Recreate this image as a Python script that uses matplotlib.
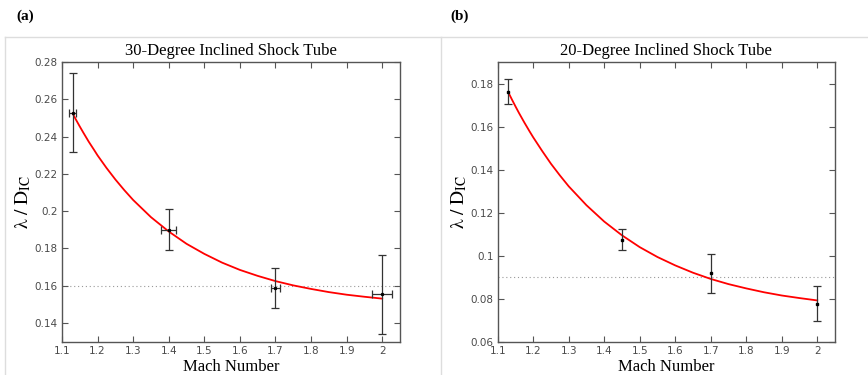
import matplotlib
matplotlib.use("Agg")
import matplotlib.pyplot as plt
from matplotlib.lines import Line2D

plt.rcParams['mathtext.fontset'] = 'stix'

# Datele
mach_a = [1.13, 1.40, 1.70, 2.00]
lam_a = [0.2524, 0.190, 0.159, 0.1554]
yerr_lo_a = [0.0209, 0.011, 0.0111, 0.0214]
yerr_hi_a = [0.0216, 0.011, 0.0107, 0.0211]
xerr_a = [0.010, 0.021, 0.012, 0.028]

fit_x_a = [1.13, 1.14, 1.15, 1.16, 1.175, 1.19, 1.20, 1.225, 1.25, 1.275, 1.30, 1.35,
           1.40, 1.45, 1.50, 1.55, 1.60, 1.65, 1.70, 1.75, 1.80, 1.85, 1.90, 1.95, 2.00]
fit_y_a = [0.2524, 0.2488, 0.2454, 0.2421, 0.2373, 0.2329, 0.2299, 0.2232, 0.2170,
           0.2113, 0.2060, 0.1968, 0.1891, 0.1825, 0.1771, 0.1724, 0.1685, 0.1653,
           0.1625, 0.1602, 0.1583, 0.1566, 0.1552, 0.1541, 0.1531]
ref_a = 0.16

mach_b = [1.13, 1.45, 1.70, 2.00]
lam_b = [0.1762, 0.1073, 0.0918, 0.0775]
yerr_lo_b = [0.0055, 0.0048, 0.0091, 0.0080]
yerr_hi_b = [0.0058, 0.0050, 0.0090, 0.0083]

fit_x_b = fit_x_a
fit_y_b = [0.1760, 0.1727, 0.1695, 0.1664, 0.1620, 0.1578, 0.1551, 0.1488, 0.1428,
           0.1374, 0.1323, 0.1235, 0.1159, 0.1095, 0.1040, 0.0994, 0.0955, 0.0921,
           0.0892, 0.0868, 0.0848, 0.0830, 0.0815, 0.0803, 0.0792]
ref_b = 0.09

xticks = [1.1, 1.2, 1.3, 1.4, 1.5, 1.6, 1.7, 1.8, 1.9, 2.0]
yticks_a = [0.14, 0.16, 0.18, 0.20, 0.22, 0.24, 0.26, 0.28]
yticks_b = [0.06, 0.08, 0.10, 0.12, 0.14, 0.16, 0.18]

serif = 'Liberation Serif'
spine_col = '#555555'
tick_col = '#4a4a4a'

fig = plt.figure(figsize=(8.68, 3.75), dpi=100)

# chenarele panourilor
frame = '#dddddd'
fig.add_artist(Line2D([5 / 868, 1.0], [1 - 37 / 375] * 2, color=frame, lw=1))
fig.add_artist(Line2D([5 / 868] * 2, [0, 1 - 37 / 375], color=frame, lw=1))
fig.add_artist(Line2D([441 / 868] * 2, [0, 1 - 37 / 375], color=frame, lw=1))

fig.text(16 / 868, 1 - 16 / 375, '(a)', fontfamily=serif, fontweight='bold',
         fontsize=11, va='center')
fig.text(450 / 868, 1 - 16 / 375, '(b)', fontfamily=serif, fontweight='bold',
         fontsize=11, va='center')


def draw(ax, mach, lam, ylo, yhi, xerr, fx, fy, ref, ylim, yticks, title, marker, ms):
    ax.axhline(ref, color='#999999', ls=(0, (1, 2.5)), lw=0.8, zorder=1)
    ax.plot(fx, fy, color='red', lw=1.3, zorder=2)
    ax.errorbar(mach, lam, yerr=[ylo, yhi], xerr=xerr, fmt='none',
                ecolor='#333333', elinewidth=0.9, capsize=3, capthick=0.9, zorder=3)
    ax.plot(mach, lam, marker, color='black', ms=ms, zorder=4)
    ax.set_xlim(1.1, 2.05)
    ax.set_ylim(*ylim)
    ax.set_xticks(xticks)
    ax.set_xticklabels(['%g' % t for t in xticks])
    ax.set_yticks(yticks)
    ax.set_yticklabels(['%g' % round(t, 2) for t in yticks])
    ax.tick_params(direction='in', top=True, right=True, length=4, width=0.8,
                   color=spine_col, labelcolor=tick_col, labelsize=7.5, pad=3)
    for s in ax.spines.values():
        s.set_color(spine_col)
        s.set_linewidth(1.0)
    ax.set_title(title, fontfamily=serif, fontsize=12, pad=5)
    ax.set_xlabel('Mach Number', fontfamily=serif, fontsize=12, labelpad=2)
    ax.set_ylabel(r'$\mathrm{λ\ /\ D}_{\mathrm{IC}}$', fontsize=14, labelpad=1)


ax1 = fig.add_axes([62 / 868, 1 - 341.7 / 375, 338 / 868, 279.7 / 375])
draw(ax1, mach_a, lam_a, yerr_lo_a, yerr_hi_a, xerr_a, fit_x_a, fit_y_a, ref_a,
     (0.13, 0.28), yticks_a, '30-Degree Inclined Shock Tube', '.', 3)

ax2 = fig.add_axes([497.7 / 868, 1 - 341.7 / 375, 337.3 / 868, 279.4 / 375])
draw(ax2, mach_b, lam_b, yerr_lo_b, yerr_hi_b, None, fit_x_b, fit_y_b, ref_b,
     (0.06, 0.19), yticks_b, '20-Degree Inclined Shock Tube', 's', 1.6)

fig.savefig('out.png', dpi=100)
